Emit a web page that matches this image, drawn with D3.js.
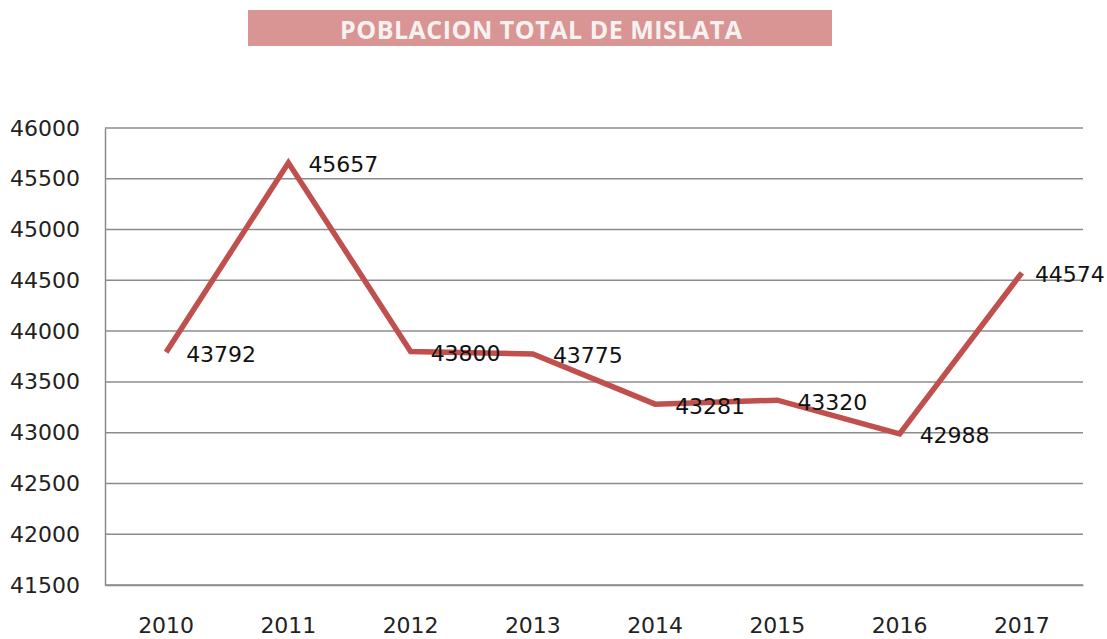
<!DOCTYPE html>
<html>
<head>
<meta charset="utf-8">
<script src="https://cdn.jsdelivr.net/npm/d3@7"></script>
<style>
  body { margin: 0; background: #fff; }
  svg { display: block; }
</style>
</head>
<body>
<svg width="1107" height="639"></svg>
<script>
// data
var years = ["2010", "2011", "2012", "2013", "2014", "2015", "2016", "2017"];
var population = [43792, 45657, 43800, 43775, 43281, 43320, 42988, 44574];
var yTicks = [41500, 42000, 42500, 43000, 43500, 44000, 44500, 45000, 45500, 46000];
var title = "POBLACION TOTAL DE MISLATA";

var svg = d3.select("svg"),
    width = +svg.attr("width"),
    height = +svg.attr("height");

var margin = {left: 105, right: 24, top: 128, bottom: 54};

var x = d3.scaleBand()
    .domain(years)
    .range([margin.left, width - margin.right])
    .padding(0);

var y = d3.scaleLinear()
    .domain([41500, 46000])
    .range([height - margin.bottom, margin.top]);

// title box
svg.append("rect")
    .attr("x", 248).attr("y", 10)
    .attr("width", 584).attr("height", 36)
    .attr("fill", "#d99594");
svg.append("text")
    .attr("x", 541).attr("y", 29)
    .attr("text-anchor", "middle")
    .attr("dominant-baseline", "central")
    .style("font-family", "'Open Sans', sans-serif")
    .style("font-weight", "bold")
    .style("font-size", "25px")
    .style("fill", "#f7f2f2")
    .attr("textLength", 402)
    .text(title);

// gridlines
svg.append("g")
  .selectAll("line")
  .data(yTicks)
  .enter()
  .append("line")
    .attr("x1", margin.left)
    .attr("x2", width - margin.right)
    .attr("y1", function(d){ return y(d) })
    .attr("y2", function(d){ return y(d) })
    .attr("stroke", "#8c8c8c")
    .attr("stroke-width", 1.5);

// left axis
var yAxis = svg.append("g")
    .attr("transform", "translate(" + margin.left + ",0)")
    .call(d3.axisLeft(y).tickValues(yTicks).tickSize(0).tickPadding(25).tickFormat(d3.format("d")));
yAxis.select(".domain").attr("stroke", "#8c8c8c").attr("stroke-width", 1.5);
yAxis.selectAll("text")
    .style("font-family", "'DejaVu Sans', sans-serif")
    .style("font-size", "22px")
    .style("fill", "#222");

// bottom axis
var xAxis = svg.append("g")
    .attr("transform", "translate(0," + (height - margin.bottom) + ")")
    .call(d3.axisBottom(x).tickSize(0).tickPadding(32));
xAxis.select(".domain").attr("stroke", "#8c8c8c").attr("stroke-width", 1.5);
xAxis.selectAll("text")
    .style("font-family", "'DejaVu Sans', sans-serif")
    .style("font-size", "22px")
    .style("fill", "#222");

// the line
var line = d3.line()
    .x(function(d, i){ return x(years[i]) + x.bandwidth() / 2 })
    .y(function(d){ return y(d) });

svg.append("path")
    .datum(population)
    .attr("d", line)
    .attr("fill", "none")
    .attr("stroke", "#c0504d")
    .attr("stroke-width", 5.5)
    .attr("stroke-linejoin", "miter");

// value labels, to the right of each point
svg.append("g")
  .selectAll("text")
  .data(population)
  .enter()
  .append("text")
    .attr("x", function(d, i){ return x(years[i]) + x.bandwidth() / 2 + (i === years.length - 1 ? 13 : 20) })
    .attr("y", function(d){ return y(d) + 2 })
    .attr("dominant-baseline", "central")
    .style("font-family", "'DejaVu Sans', sans-serif")
    .style("font-size", "22px")
    .style("fill", "#111")
    .text(function(d){ return d });
</script>
</body>
</html>
